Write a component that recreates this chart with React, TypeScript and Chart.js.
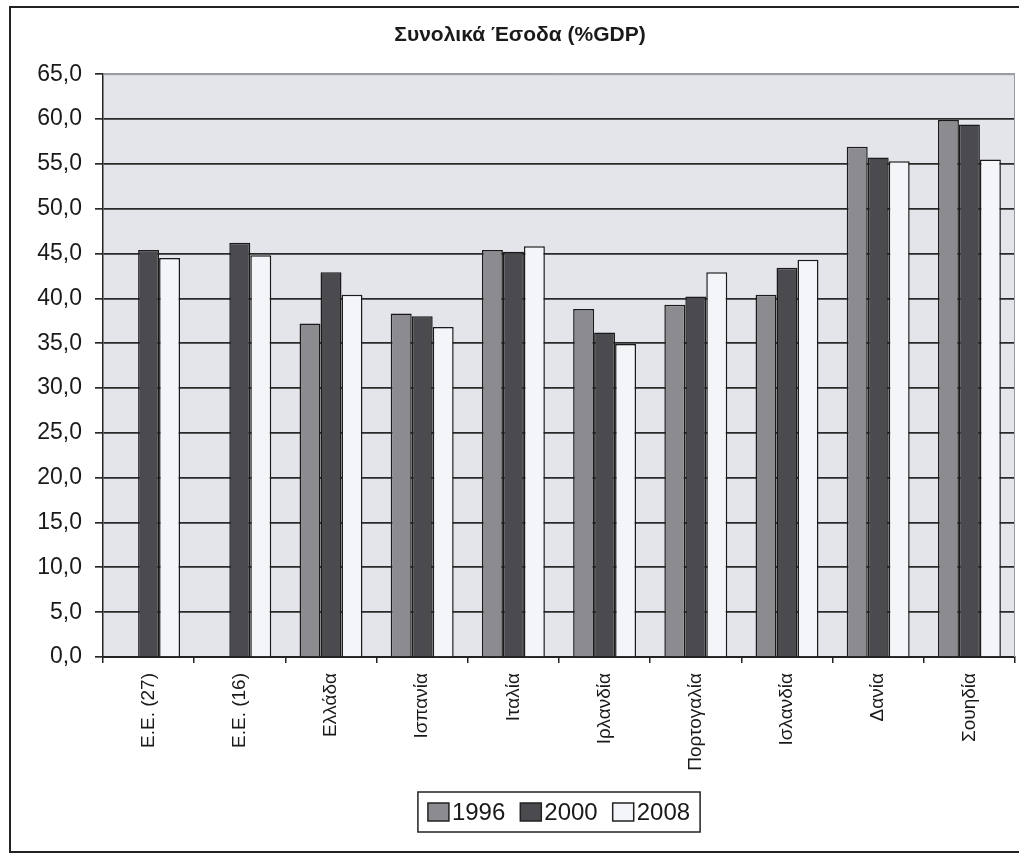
import React, { useEffect, useRef } from "react";
import { Chart, registerables } from "chart.js";

Chart.register(...registerables);

const categories = ["Ε.Ε. (27)", "Ε.Ε. (16)", "Ελλάδα", "Ισπανία", "Ιταλία", "Ιρλανδία", "Πορτογαλία", "Ισλανδία", "Δανία", "Σουηδία"];
const seriesLabels = ["1996", "2000", "2008"];
const values1996 = [null, null, 37.2, 38.3, 45.4, 38.8, 39.3, 40.4, 56.9, 59.9];
const values2000 = [45.4, 46.2, 42.9, 38.0, 45.2, 36.2, 40.2, 43.4, 55.7, 59.4];
const values2008 = [44.5, 44.8, 40.4, 36.8, 45.8, 34.9, 42.9, 44.3, 55.3, 55.5];
const yMin = 0;
const yMax = 65;
const yStep = 5;
const titleText = "Συνολικά Έσοδα (%GDP)";

const FONT = "'Liberation Sans', Arial, sans-serif";
const colors = ["#8c8c90", "#4b4b4f", "#f4f5f9"];

const framePlugin = {
  id: "framePlugin",
  beforeDraw(chart: any) {
    const { ctx, chartArea } = chart;
    ctx.save();
    ctx.fillStyle = "#ffffff";
    ctx.fillRect(0, 0, chart.width, chart.height);
    ctx.fillStyle = "#e3e5eb";
    ctx.fillRect(chartArea.left, chartArea.top, chartArea.right - chartArea.left, chartArea.bottom - chartArea.top);
    ctx.restore();
  },
  afterDraw(chart: any) {
    const { ctx, chartArea } = chart;
    ctx.save();
    // outer frame
    ctx.strokeStyle = "#222";
    ctx.lineWidth = 2;
    ctx.beginPath();
    ctx.moveTo(1030, 7);
    ctx.lineTo(10, 7);
    ctx.lineTo(10, 852);
    ctx.lineTo(1030, 852);
    ctx.stroke();
    // plot area light border (top/right)
    ctx.strokeStyle = "#9a9ca2";
    ctx.lineWidth = 1;
    ctx.beginPath();
    ctx.moveTo(chartArea.left, chartArea.top + 0.5);
    ctx.lineTo(chartArea.right - 0.5, chartArea.top + 0.5);
    ctx.lineTo(chartArea.right - 0.5, chartArea.bottom);
    ctx.stroke();

    // legend with border
    const ds = chart.data.datasets;
    ctx.font = `24px ${FONT}`;
    const boxW = 21, boxH = 18, gapBT = 3, gapItem = 15, pad = 10;
    const widths = ds.map((d: any) => ctx.measureText(d.label).width);
    let total = 0;
    widths.forEach((w: number, i: number) => {
      total += boxW + gapBT + w + (i < widths.length - 1 ? gapItem : 0);
    });
    const cx = (chartArea.left + chartArea.right) / 2;
    const boxLeft = cx - total / 2 - pad;
    const boxTop = 792;
    const boxHeight = 40;
    ctx.strokeStyle = "#222";
    ctx.lineWidth = 1.5;
    ctx.strokeRect(boxLeft, boxTop, total + 2 * pad, boxHeight);
    let x = boxLeft + pad;
    const cy = boxTop + boxHeight / 2;
    ds.forEach((d: any, i: number) => {
      ctx.fillStyle = d.backgroundColor;
      ctx.fillRect(x, cy - boxH / 2, boxW, boxH);
      ctx.strokeStyle = "#222";
      ctx.lineWidth = 1.5;
      ctx.strokeRect(x, cy - boxH / 2, boxW, boxH);
      x += boxW + gapBT;
      ctx.fillStyle = "#1a1a1a";
      ctx.textBaseline = "middle";
      ctx.textAlign = "left";
      ctx.fillText(d.label, x, cy + 1);
      x += widths[i] + gapItem;
    });
    ctx.restore();
  },
};

export default function App() {
  const ref = useRef<HTMLCanvasElement | null>(null);

  useEffect(() => {
    if (!ref.current) return;
    const seriesValues = [values1996, values2000, values2008];
    const chart = new Chart(ref.current, {
      type: "bar",
      data: {
        labels: categories,
        datasets: seriesLabels.map((label, i) => ({
          label,
          data: seriesValues[i],
          backgroundColor: colors[i],
          borderColor: "#1a1a1a",
          borderWidth: 1.5,
          categoryPercentage: 0.69,
          barPercentage: 1.0,
        })),
      },
      options: {
        responsive: false,
        animation: false,
        layout: { padding: { left: 25, right: 4, top: 0, bottom: 67 } },
        plugins: {
          legend: { display: false },
          tooltip: { enabled: false },
          title: {
            display: true,
            text: titleText,
            color: "#1a1a1a",
            font: { family: FONT, size: 21, weight: "bold" },
            padding: { top: 23, bottom: 26 },
          },
        },
        scales: {
          x: {
            grid: {
              drawOnChartArea: false,
              drawTicks: true,
              tickLength: 6,
              color: "#222",
              lineWidth: 1.5,
              offset: true,
            },
            border: { color: "#222", width: 2 },
            ticks: {
              minRotation: 90,
              maxRotation: 90,
              autoSkip: false,
              padding: 10,
              color: "#1a1a1a",
              font: { family: FONT, size: 19 },
            },
            afterFit(scale: any) {
              scale.height = 130;
            },
          },
          y: {
            min: yMin,
            max: yMax,
            ticks: {
              stepSize: yStep,
              padding: 13,
              color: "#1a1a1a",
              font: { family: FONT, size: 23 },
              callback: (v: any) => Number(v).toFixed(1).replace(".", ","),
            },
            grid: {
              color: (c: any) => (c.tick && c.tick.value === yMax ? "#9a9ca2" : "#2a2a2a"),
              lineWidth: 1.7,
              tickLength: 8,
              tickColor: "#2a2a2a",
            },
            border: { color: "#222", width: 1.5 },
            afterFit(scale: any) {
              scale.width = 78;
            },
          },
        },
      },
      plugins: [framePlugin],
    });
    return () => chart.destroy();
  }, []);

  return (
    <div style={{ position: "fixed", left: 0, top: 0, width: 1019, height: 854, background: "#fff" }}>
      <canvas ref={ref} width={1019} height={854} style={{ display: "block" }} />
    </div>
  );
}
